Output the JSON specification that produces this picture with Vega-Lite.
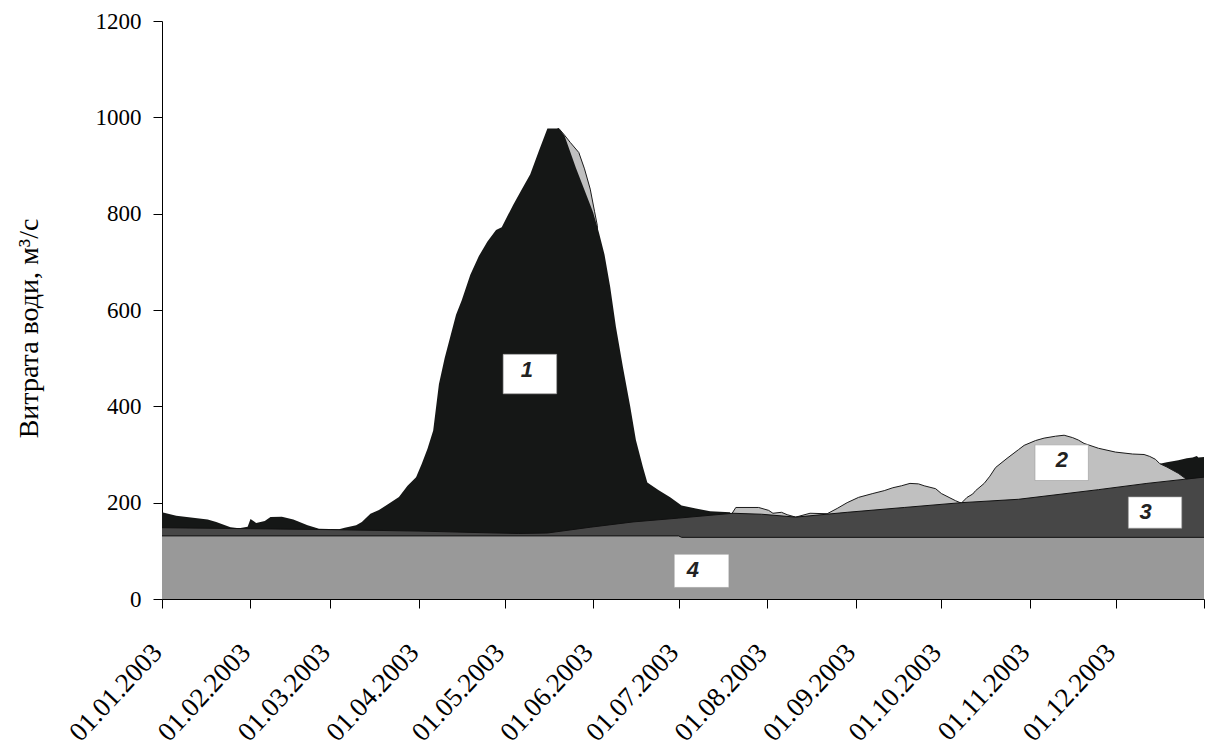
{
  "$schema": "https://vega.github.io/schema/vega-lite/v6.json",
  "width": 1042,
  "height": 578,
  "autosize": "none",
  "padding": {"left": 162, "top": 21, "right": 7, "bottom": 156},
  "background": "white",
  "config": {"view": {"stroke": null}, "area": {"opacity": 1, "fillOpacity": 1}},
  "datasets": {
    "blackDec": [
      {"date": "2003-12-15", "q": 100},
      {"date": "2003-12-16T12:00:00Z", "q": 281},
      {"date": "2003-12-19", "q": 284},
      {"date": "2003-12-23", "q": 288},
      {"date": "2003-12-26", "q": 292},
      {"date": "2003-12-28", "q": 294},
      {"date": "2003-12-29T12:00:00Z", "q": 297},
      {"date": "2003-12-30", "q": 294},
      {"date": "2004-01-01", "q": 295}
    ],
    "gray": [
      {"date": "2003-01-01", "q": 100},
      {"date": "2003-05-15", "q": 100},
      {"date": "2003-05-16", "q": 965},
      {"date": "2003-05-20", "q": 977},
      {"date": "2003-05-22", "q": 963},
      {"date": "2003-05-24", "q": 948},
      {"date": "2003-05-27", "q": 927},
      {"date": "2003-05-29", "q": 893},
      {"date": "2003-05-31", "q": 851},
      {"date": "2003-06-01T12:00:00Z", "q": 805},
      {"date": "2003-06-02T12:00:00Z", "q": 775},
      {"date": "2003-06-03T12:00:00Z", "q": 100},
      {"date": "2003-07-19", "q": 100},
      {"date": "2003-07-19T12:00:00Z", "q": 176},
      {"date": "2003-07-21", "q": 190},
      {"date": "2003-07-29", "q": 190},
      {"date": "2003-08-01T12:00:00Z", "q": 184},
      {"date": "2003-08-03", "q": 178},
      {"date": "2003-08-06", "q": 180},
      {"date": "2003-08-08", "q": 175},
      {"date": "2003-08-11", "q": 170},
      {"date": "2003-08-16", "q": 178},
      {"date": "2003-08-22", "q": 177},
      {"date": "2003-08-25T12:00:00Z", "q": 188},
      {"date": "2003-08-29", "q": 200},
      {"date": "2003-09-02", "q": 211},
      {"date": "2003-09-07", "q": 219},
      {"date": "2003-09-11", "q": 225},
      {"date": "2003-09-14", "q": 231},
      {"date": "2003-09-17", "q": 235},
      {"date": "2003-09-20", "q": 240},
      {"date": "2003-09-23", "q": 239},
      {"date": "2003-09-25", "q": 235},
      {"date": "2003-09-29", "q": 229},
      {"date": "2003-10-01", "q": 219},
      {"date": "2003-10-04", "q": 210},
      {"date": "2003-10-06", "q": 204},
      {"date": "2003-10-08", "q": 199},
      {"date": "2003-10-10", "q": 211},
      {"date": "2003-10-12", "q": 218},
      {"date": "2003-10-13", "q": 225},
      {"date": "2003-10-16", "q": 240},
      {"date": "2003-10-18", "q": 255},
      {"date": "2003-10-20", "q": 273},
      {"date": "2003-10-24", "q": 292},
      {"date": "2003-10-28", "q": 310},
      {"date": "2003-10-30", "q": 319},
      {"date": "2003-11-03", "q": 329},
      {"date": "2003-11-06", "q": 334},
      {"date": "2003-11-10", "q": 338},
      {"date": "2003-11-13", "q": 340},
      {"date": "2003-11-16", "q": 335},
      {"date": "2003-11-18", "q": 330},
      {"date": "2003-11-20", "q": 323},
      {"date": "2003-11-25", "q": 313},
      {"date": "2003-12-01", "q": 305},
      {"date": "2003-12-07", "q": 301},
      {"date": "2003-12-11", "q": 300},
      {"date": "2003-12-13", "q": 296},
      {"date": "2003-12-15", "q": 290},
      {"date": "2003-12-16T12:00:00Z", "q": 281},
      {"date": "2003-12-19", "q": 274},
      {"date": "2003-12-23", "q": 261},
      {"date": "2003-12-26", "q": 248},
      {"date": "2004-01-01", "q": 250}
    ],
    "black": [
      {"date": "2003-01-01", "q": 180},
      {"date": "2003-01-06", "q": 173},
      {"date": "2003-01-17", "q": 165},
      {"date": "2003-01-20", "q": 160},
      {"date": "2003-01-25", "q": 149},
      {"date": "2003-01-28", "q": 147},
      {"date": "2003-01-31", "q": 150},
      {"date": "2003-02-01", "q": 166},
      {"date": "2003-02-03", "q": 158},
      {"date": "2003-02-06", "q": 162},
      {"date": "2003-02-08", "q": 170},
      {"date": "2003-02-12", "q": 171},
      {"date": "2003-02-16", "q": 165},
      {"date": "2003-02-21", "q": 153},
      {"date": "2003-02-25", "q": 146},
      {"date": "2003-03-04", "q": 145},
      {"date": "2003-03-06", "q": 148},
      {"date": "2003-03-10", "q": 153},
      {"date": "2003-03-12", "q": 160},
      {"date": "2003-03-15", "q": 177},
      {"date": "2003-03-18", "q": 185},
      {"date": "2003-03-21", "q": 196},
      {"date": "2003-03-25", "q": 212},
      {"date": "2003-03-28", "q": 235},
      {"date": "2003-03-31", "q": 253},
      {"date": "2003-04-02", "q": 281},
      {"date": "2003-04-04", "q": 312},
      {"date": "2003-04-06", "q": 350},
      {"date": "2003-04-08", "q": 446},
      {"date": "2003-04-10", "q": 500},
      {"date": "2003-04-12", "q": 545},
      {"date": "2003-04-14", "q": 590},
      {"date": "2003-04-16", "q": 620},
      {"date": "2003-04-19", "q": 673},
      {"date": "2003-04-22", "q": 712},
      {"date": "2003-04-25", "q": 742},
      {"date": "2003-04-28", "q": 766},
      {"date": "2003-04-30", "q": 772},
      {"date": "2003-05-02", "q": 795},
      {"date": "2003-05-04", "q": 818},
      {"date": "2003-05-07", "q": 850},
      {"date": "2003-05-10", "q": 882},
      {"date": "2003-05-13", "q": 930},
      {"date": "2003-05-16", "q": 977},
      {"date": "2003-05-20", "q": 977},
      {"date": "2003-05-22", "q": 962},
      {"date": "2003-05-26", "q": 895},
      {"date": "2003-06-01", "q": 803},
      {"date": "2003-06-03", "q": 762},
      {"date": "2003-06-05", "q": 715},
      {"date": "2003-06-07", "q": 648},
      {"date": "2003-06-09", "q": 565},
      {"date": "2003-06-11T12:00:00Z", "q": 480},
      {"date": "2003-06-14", "q": 400},
      {"date": "2003-06-16", "q": 330},
      {"date": "2003-06-18T12:00:00Z", "q": 273},
      {"date": "2003-06-20", "q": 242},
      {"date": "2003-06-24", "q": 226},
      {"date": "2003-06-28", "q": 211},
      {"date": "2003-07-02", "q": 194},
      {"date": "2003-07-07", "q": 188},
      {"date": "2003-07-12", "q": 182},
      {"date": "2003-07-19", "q": 180},
      {"date": "2003-07-21", "q": 120}
    ],
    "base3": [
      {"date": "2003-01-01", "q": 148},
      {"date": "2003-02-01", "q": 146},
      {"date": "2003-03-01", "q": 144},
      {"date": "2003-04-01", "q": 141},
      {"date": "2003-04-21", "q": 138},
      {"date": "2003-05-06", "q": 136},
      {"date": "2003-05-16", "q": 137},
      {"date": "2003-05-31", "q": 149},
      {"date": "2003-06-15", "q": 160},
      {"date": "2003-07-01", "q": 168},
      {"date": "2003-07-20", "q": 178},
      {"date": "2003-07-30", "q": 176},
      {"date": "2003-08-11", "q": 170},
      {"date": "2003-08-29", "q": 180},
      {"date": "2003-09-18", "q": 190},
      {"date": "2003-10-08", "q": 200},
      {"date": "2003-10-28", "q": 207},
      {"date": "2003-11-25", "q": 227},
      {"date": "2003-12-12", "q": 240},
      {"date": "2004-01-01", "q": 253}
    ],
    "base4": [
      {"date": "2003-01-01", "q": 131},
      {"date": "2003-07-01", "q": 131},
      {"date": "2003-07-02", "q": 128},
      {"date": "2004-01-01", "q": 128}
    ],
    "boxes": [
      {"label": "1", "date": "2003-04-30T12:00:00Z", "date2": "2003-05-19T06:00:00Z", "q": 426, "q2": 508},
      {"label": "2", "date": "2003-11-02T19:00:00Z", "date2": "2003-11-21T12:00:00Z", "q": 246, "q2": 320},
      {"label": "3", "date": "2003-12-05T12:00:00Z", "date2": "2003-12-24T05:00:00Z", "q": 147, "q2": 212},
      {"label": "4", "date": "2003-06-29T10:00:00Z", "date2": "2003-07-18T14:00:00Z", "q": 24, "q2": 93}
    ],
    "labels": [
      {"label": "1", "date": "2003-05-08T19:00:00Z", "q": 475},
      {"label": "2", "date": "2003-11-12T05:00:00Z", "q": 288},
      {"label": "3", "date": "2003-12-11T14:00:00Z", "q": 181},
      {"label": "4", "date": "2003-07-05T22:00:00Z", "q": 60}
    ]
  },
  "encoding": {
    "x": {
      "field": "date",
      "type": "temporal",
      "scale": {
        "type": "utc",
        "domain": [
          {"year": 2003, "month": 1, "date": 1, "utc": true},
          {"year": 2004, "month": 1, "date": 1, "utc": true}
        ]
      },
      "axis": {
        "title": null,
        "grid": false,
        "values": [
          {"year": 2003, "month": 1, "date": 1, "utc": true},
          {"year": 2003, "month": 2, "date": 1, "utc": true},
          {"year": 2003, "month": 3, "date": 1, "utc": true},
          {"year": 2003, "month": 4, "date": 1, "utc": true},
          {"year": 2003, "month": 5, "date": 1, "utc": true},
          {"year": 2003, "month": 6, "date": 1, "utc": true},
          {"year": 2003, "month": 7, "date": 1, "utc": true},
          {"year": 2003, "month": 8, "date": 1, "utc": true},
          {"year": 2003, "month": 9, "date": 1, "utc": true},
          {"year": 2003, "month": 10, "date": 1, "utc": true},
          {"year": 2003, "month": 11, "date": 1, "utc": true},
          {"year": 2003, "month": 12, "date": 1, "utc": true},
          {"year": 2004, "month": 1, "date": 1, "utc": true}
        ],
        "labelExpr": "utcyear(datum.value) > 2003 ? '' : utcFormat(datum.value, '%d.%m.%Y')",
        "labelAngle": -47,
        "labelAlign": "right",
        "labelBaseline": "middle",
        "labelFont": "Liberation Serif",
        "labelFontSize": 27,
        "labelColor": "black",
        "labelPadding": 40,
        "labelOffset": -5,
        "labelOverlap": false,
        "labelFlush": false,
        "labelBound": false,
        "tickSize": 9,
        "tickColor": "black",
        "domainColor": "black",
        "tickWidth": 1,
        "domainWidth": 1
      }
    },
    "y": {
      "field": "q",
      "type": "quantitative",
      "scale": {"domain": [0, 1200], "nice": false, "zero": true},
      "axis": {
        "title": "Витрата води, м³/с",
        "grid": false,
        "values": [0, 200, 400, 600, 800, 1000, 1200],
        "format": "d",
        "labelFont": "Liberation Serif",
        "labelFontSize": 23,
        "labelColor": "black",
        "labelPadding": 12,
        "labelFlush": false,
        "tickSize": 9,
        "tickColor": "black",
        "domainColor": "black",
        "titleFont": "Liberation Serif",
        "titleFontSize": 28,
        "titleFontWeight": "normal",
        "titleColor": "black",
        "titleAngle": -90,
        "titleAlign": "center",
        "titleBaseline": "middle",
        "titleX": -133,
        "titleY": 307
      }
    }
  },
  "layer": [
    {"data": {"name": "blackDec"}, "mark": {"type": "area", "color": "#151716", "opacity": 1}},
    {"data": {"name": "gray"}, "mark": {"type": "area", "color": "#c0c0c0", "opacity": 1, "line": {"color": "#1a1a1a", "strokeWidth": 1}}},
    {"data": {"name": "black"}, "mark": {"type": "area", "color": "#151716", "opacity": 1}},
    {"data": {"name": "base3"}, "mark": {"type": "area", "color": "#474747", "opacity": 1, "line": {"color": "#111111", "strokeWidth": 1}}},
    {"data": {"name": "base4"}, "mark": {"type": "area", "color": "#999999", "opacity": 1, "line": {"color": "#111111", "strokeWidth": 1}}},
    {
      "data": {"name": "boxes"},
      "mark": {"type": "rect", "fill": "white", "opacity": 1, "stroke": "#9a9a9a", "strokeWidth": 0.6},
      "encoding": {"x2": {"field": "date2"}, "y2": {"field": "q2"}}
    },
    {
      "data": {"name": "labels"},
      "mark": {"type": "text", "font": "Liberation Sans", "fontStyle": "italic", "fontWeight": "bold", "fontSize": 22, "color": "#222222", "align": "center", "baseline": "middle"},
      "encoding": {"text": {"field": "label"}}
    }
  ]
}
